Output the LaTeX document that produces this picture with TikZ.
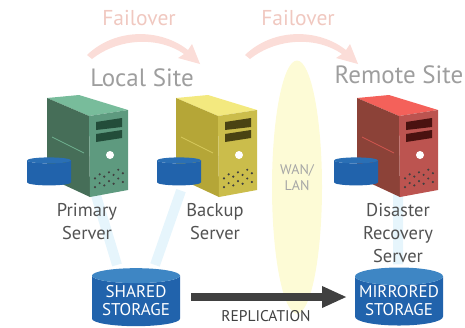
\documentclass[tikz,border=0pt]{standalone}
\usepackage{fontspec}
\setmainfont{PT Sans}
\usetikzlibrary{shapes.geometric,arrows.meta,backgrounds}
\definecolor{diskblue}{HTML}{2163AC}
\definecolor{disktop}{HTML}{3E86C4}
\definecolor{smalltop}{HTML}{2A6FB5}
\definecolor{beamblue}{HTML}{E6F5FC}
\definecolor{failred}{HTML}{FBDDD8}
\definecolor{failtxt}{HTML}{F0C8C0}
\definecolor{wanyellow}{HTML}{FDFBD6}
\definecolor{greentop}{HTML}{78BC9B}
\definecolor{greenside}{HTML}{466E58}
\definecolor{greenfront}{HTML}{5E9A7F}
\definecolor{greenslot}{HTML}{234D3A}
\definecolor{greenline}{HTML}{6FB08F}
\definecolor{yellowtop}{HTML}{F3E97F}
\definecolor{yellowside}{HTML}{B5A637}
\definecolor{yellowfront}{HTML}{CBBD4B}
\definecolor{yellowslot}{HTML}{4A4313}
\definecolor{yellowline}{HTML}{D6C95C}
\definecolor{redtop}{HTML}{F4615A}
\definecolor{redside}{HTML}{8C4238}
\definecolor{redfront}{HTML}{BC5450}
\definecolor{redslot}{HTML}{4A1210}
\definecolor{redline}{HTML}{D0564F}
\tikzset{
  disk/.style={cylinder, shape border rotate=90, cylinder uses custom fill, cylinder body fill=diskblue, cylinder end fill=smalltop, inner sep=0pt, aspect=0.2, minimum width=44pt, minimum height=28pt},
  storage/.style={disk, cylinder end fill=disktop, aspect=0.22, minimum width=88pt, minimum height=58pt, text=white, align=center, font=\fontsize{17}{18}\selectfont, execute at begin node={\rule{0pt}{23pt}}},
  servername/.style={align=center, text=black!68, font=\fontsize{18.5}{23}\selectfont},
  beam/.style={line width=10pt, beamblue},
  failarrow/.style={fill=failred},
  failtext/.style={text=failtxt, font=\fontsize{21.5}{22}\selectfont},
  sitetext/.style={text=black!38, font=\fontsize{25}{26}\selectfont},
}
% one tower: x offset, then the colour prefix
\newcommand{\towerbox}[2]{
  \begin{scope}[shift={(#1,0)}]
    \fill[#2top] (47,98) -- (79,95) -- (128,110) -- (89,116) -- cycle;
    \fill[#2side] (47,98) -- (89,116) -- (90,197) -- (47,177) -- cycle;
    \fill[#2front] (89,116) -- (128,110) -- (128,190) -- (90,197) -- cycle;
    \fill[#2slot] (96,122) -- (122,118) -- (122,127) -- (96,130) -- cycle;
    \fill[#2slot] (96,134) -- (122,130) -- (122,138) -- (96,142) -- cycle;
    \fill[white] (110,155) circle (4);
    \draw[#2line, line width=0.8pt] (52,137) -- (84,153);
    \foreach \dotx/\doty in {0/178.3,1/174.3,2/176.6,3/172.3,4/174.9,5/169.7,6/173.2} {
      \fill[black!75] (95+4.65*\dotx, \doty) circle (1.2);
      \fill[black!75] (95+4.65*\dotx, \doty+8.8) circle (1.2);
    }
  \end{scope}
}
\begin{document}
\begin{tikzpicture}[x=1pt, y=-1pt]
  \useasboundingbox (0,0) rectangle (465,327);

  \node (wan) [ellipse, fill=wanyellow, minimum width=50pt, minimum height=253pt, inner sep=0pt] at (297,187) {};
  \node (wanlabel) [text=black!35, align=center, font=\fontsize{14}{16}\selectfont] at (297,178) {WAN/\\LAN};

  \node (shared) [storage] at (136,301) {SHARED\\STORAGE};
  \node (mirrored) [storage] at (399,301) {MIRRORED\\STORAGE};

  \towerbox{0}{green}
  \towerbox{129}{yellow}
  \towerbox{310}{red}

  \node (primarydisk) [disk] at (49,173) {\phantom{\rule{30pt}{14pt}}};
  \node (backupdisk) [disk] at (179,173) {\phantom{\rule{30pt}{14pt}}};
  \node (drdisk) [disk] at (356,173) {\phantom{\rule{30pt}{14pt}}};

  \coordinate (primarybase) at (95,192);
  \coordinate (drbase) at (398,190);
  \begin{pgfonlayer}{background}
    \draw[beam] (primarybase) -- ([xshift=-19pt,yshift=3pt]shared.north);
    \draw[beam] ([xshift=2pt,yshift=-5pt]backupdisk.south) -- ([xshift=19pt,yshift=3pt]shared.north);
    \draw[beam] (drbase) -- ([xshift=-1pt,yshift=3pt]mirrored.north);
  \end{pgfonlayer}

  \node (primary) [servername] at (87,221.5) {Primary\\Server};
  \node (backup) [servername] at (215,221.5) {Backup\\Server};
  \node (dr) [servername] at (398,233) {Disaster\\Recovery\\Server};

  \node (localsite) [sitetext] at (142,78) {Local Site};
  \node (remotesite) [sitetext] at (399,75) {Remote Site};
  \node (failone) [failtext] at (139,18) {Failover};
  \node (failtwo) [failtext] at (298,18) {Failover};

  \fill[failarrow] (87,55) .. controls (115,28) and (160,28) .. (188,50) -- (192,44) -- (200,64) -- (178,58) -- (184,54) .. controls (160,37) and (120,37) .. (92,59) -- cycle;
  \fill[failarrow, shift={(158,0)}] (87,55) .. controls (115,28) and (160,28) .. (188,50) -- (192,44) -- (200,64) -- (178,58) -- (184,54) .. controls (160,37) and (120,37) .. (92,59) -- cycle;

  % replication arrow
  \coordinate (repstart) at (191,297);
  \coordinate (repend) at (347,297);
  \draw[black!75, line width=8pt, -{Triangle[length=25pt,width=20pt]}] (repstart) -- (repend);
  \node (replication) [text=black!75, font=\fontsize{15.5}{16}\selectfont] at (266,316) {REPLICATION};
\end{tikzpicture}
\end{document}
